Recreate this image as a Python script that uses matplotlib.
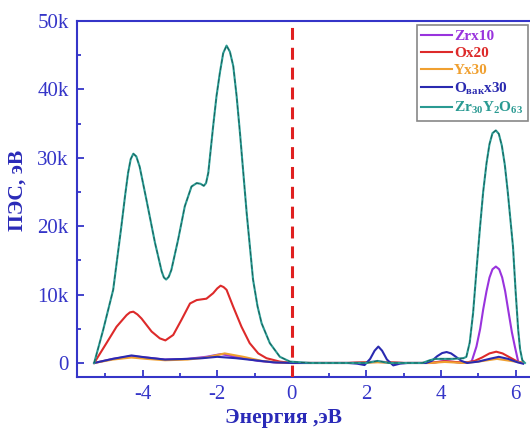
import matplotlib
matplotlib.use("Agg")
import matplotlib.pyplot as plt
from matplotlib.ticker import FuncFormatter, MultipleLocator

plt.rcParams['font.family'] = ['Liberation Serif', 'DejaVu Serif']
plt.rcParams['mathtext.fontset'] = 'custom'
plt.rcParams['mathtext.rm'] = 'Liberation Serif'
plt.rcParams['mathtext.bf'] = 'Liberation Serif:bold'
plt.rcParams['mathtext.it'] = 'Liberation Serif:italic'

# ---- data (energy in eV, DOS in thousands) ----
zr_x = [-5.3, -4.8, -4.3, -3.9, -3.4, -2.8, -2.3, -1.9, -1.4, -0.9, -0.4, 0.0, 1.5, 2.3, 3.0, 3.7,
        4.1, 4.6, 4.82, 4.95, 5.05, 5.13, 5.22, 5.3, 5.38, 5.47, 5.56, 5.64, 5.72, 5.8, 5.9, 5.98, 6.07, 6.2]
zr_y = [0, 0.6, 1.0, 0.8, 0.5, 0.6, 0.9, 1.3, 0.8, 0.3, 0.05, 0, 0, 0.2, 0, 0,
        0.3, 0, 0.2, 2.4, 5.0, 7.8, 10.5, 12.5, 13.7, 14.1, 13.7, 12.5, 10.5, 7.8, 4.5, 2.4, 0.2, 0]

o_x = [-5.3, -4.97, -4.7, -4.43, -4.34, -4.25, -4.14, -4.03, -3.76, -3.54, -3.39, -3.18, -2.96, -2.73,
       -2.55, -2.29, -2.11, -2.0, -1.91, -1.83, -1.75, -1.57, -1.35, -1.13, -0.9, -0.68, -0.32, 0.0,
       1.5, 2.3, 3.0, 3.7, 4.1, 4.5, 4.7, 4.9, 5.1, 5.3, 5.48, 5.65, 5.85, 6.05, 6.2]
o_y = [0, 2.9, 5.3, 7.0, 7.4, 7.5, 7.1, 6.5, 4.6, 3.6, 3.3, 4.1, 6.3, 8.7,
       9.2, 9.4, 10.2, 10.9, 11.3, 11.1, 10.7, 8.2, 5.3, 2.9, 1.4, 0.7, 0.2, 0,
       0, 0.15, 0, 0, 0.25, 0.1, 0.1, 0.3, 0.8, 1.4, 1.65, 1.4, 0.8, 0.2, 0]

y_x = [-5.3, -4.8, -4.3, -3.9, -3.4, -2.8, -2.3, -1.8, -1.3, -0.8, -0.3, 0, 1.5, 2.3, 3.0, 3.7,
       4.1, 4.6, 5.0, 5.5, 6.0, 6.2]
y_y = [0, 0.5, 0.8, 0.6, 0.4, 0.5, 0.8, 1.4, 0.9, 0.3, 0.05, 0, 0, 0.1, 0, 0,
       0.15, 0, 0.2, 0.6, 0.2, 0]

ov_x = [-5.3, -4.8, -4.3, -3.9, -3.4, -2.8, -2.4, -2.0, -1.5, -1.0, -0.5, 0, 1.5, 1.75, 1.95, 2.1,
        2.22, 2.32, 2.42, 2.55, 2.72, 2.9, 3.1, 3.6, 3.75, 3.9, 4.03, 4.15, 4.27, 4.4, 4.55, 4.7,
        5.0, 5.3, 5.55, 5.8, 6.05, 6.2]
ov_y = [0, 0.6, 1.1, 0.8, 0.5, 0.6, 0.7, 0.9, 0.7, 0.4, 0.1, 0, 0, -0.1, -0.3, 0.6,
        1.8, 2.4, 1.8, 0.5, -0.35, -0.1, 0, 0, 0.3, 1.0, 1.45, 1.6, 1.4, 0.9, 0.3, 0.0,
        0.2, 0.6, 0.9, 0.6, 0.1, -0.1]

tot_x = [-5.3, -5.06, -4.79, -4.57, -4.47, -4.39, -4.32, -4.25, -4.17, -4.08, -3.9, -3.67, -3.49,
         -3.43, -3.37, -3.3, -3.23, -3.05, -2.87, -2.69, -2.55, -2.45, -2.36, -2.3, -2.24, -2.11,
         -2.02, -1.93, -1.84, -1.75, -1.66, -1.57, -1.48, -1.39, -1.21, -1.04, -0.92, -0.81, -0.59,
         -0.32, -0.05, 0.5, 1.0, 1.5, 2.0, 2.3, 2.6, 3.0, 3.5, 3.7, 3.85, 4.0, 4.3, 4.6, 4.68, 4.77,
         4.86, 4.95, 5.04, 5.13, 5.22, 5.3, 5.38, 5.47, 5.55, 5.63, 5.71, 5.79, 5.86, 5.93, 6.0,
         6.07, 6.12, 6.18, 6.25]
tot_y = [0, 4.8, 10.7, 20, 24.5, 27.8, 29.8, 30.6, 30.2, 28.7, 23.9, 17.6, 13.4,
         12.5, 12.2, 12.6, 13.6, 18, 22.9, 25.8, 26.3, 26.2, 25.9, 26.3, 27.8, 34.6,
         39, 42.4, 45.3, 46.4, 45.5, 43.4, 39, 33.6, 21.9, 12.2, 8.3, 5.8, 2.9,
         0.9, 0.2, 0, 0, 0, 0, 0.3, 0, 0, 0, 0.4, 0.6, 0.6, 0.6, 0.7, 0.9, 3.0,
         7.3, 13.5, 19.5, 25.0, 29.2, 32.0, 33.6, 34.0, 33.5, 31.8, 29.0, 25.0, 21.0, 17.0, 10.5,
         4.8, 2.0, 0.4, 0]

labels = ['Zrx10', 'Ox20', 'Yx30', r'O$_{\mathbf{вак}}$x30', r'Zr$_{\mathbf{30}}$Y$_{\mathbf{2}}$O$_{\mathbf{63}}$']
colors = ['#9933dd', '#dd2a2a', '#f0a030', '#2a2ab0', '#2a9a92']

blue = '#3535c8'

fig = plt.figure(figsize=(5.3, 4.3), dpi=100)
ax = fig.add_axes([77/530, 53/430, 458/530, 356/430])

series = [(zr_x, zr_y), (o_x, o_y), (y_x, y_y), (ov_x, ov_y), (tot_x, tot_y)]
for (sx, sy), lab, c in zip(series, labels, colors):
    ax.plot(sx, sy, color=c, lw=1.5, label=lab, zorder=3)
ax.plot(tot_x, tot_y, color='#155a55', lw=0.6, ls=(0, (5, 3)), zorder=4, label='_nolegend_')

ax.axvline(0, color='#e02020', lw=2.2, ls=(0, (3.9, 2.6)), zorder=5)

ax.set_xlim(-5.76, 6.52)
ax.set_ylim(-2.05, 50)

ax.xaxis.set_major_locator(MultipleLocator(2))
ax.xaxis.set_minor_locator(MultipleLocator(1))
ax.yaxis.set_major_locator(MultipleLocator(10))
ax.yaxis.set_minor_locator(MultipleLocator(5))
ax.yaxis.set_major_formatter(FuncFormatter(lambda v, p: '0' if v == 0 else f'{v:g}k'))
ax.xaxis.set_major_formatter(FuncFormatter(lambda v, p: f'{v:g}'.replace('\u2212', '-')))

ax.tick_params(which='both', direction='in', colors=blue, labelcolor=blue, width=1.3,
               top=False, right=False)
ax.tick_params(which='major', length=5, labelsize=15, pad=6)
ax.tick_params(which='minor', length=3)
for s in ax.spines.values():
    s.set_color(blue)
    s.set_linewidth(1.5)

ax.set_xlabel('Энергия ,эВ', fontsize=15.5, fontweight='bold', color='#2a2ab8')
ax.xaxis.set_label_coords(0.45, -0.087)
ax.set_ylabel('ПЭС, эВ', fontsize=15.5, fontweight='bold', color='#2a2ab8')
ax.yaxis.set_label_coords(-0.107, 0.525)

leg = ax.legend(loc='upper right', bbox_to_anchor=(528/530, 1 - 25/430),
                bbox_transform=fig.transFigure, prop={'size': 11, 'weight': 'bold'},
                handlelength=2.0, handletextpad=0.15, labelspacing=0.22, borderpad=0.3,
                borderaxespad=0, fancybox=False, framealpha=1, edgecolor='#888888')
leg.get_frame().set_linewidth(1.2)
for t, c in zip(leg.get_texts(), colors):
    t.set_color(c)

fig.savefig('out.png', dpi=100)
